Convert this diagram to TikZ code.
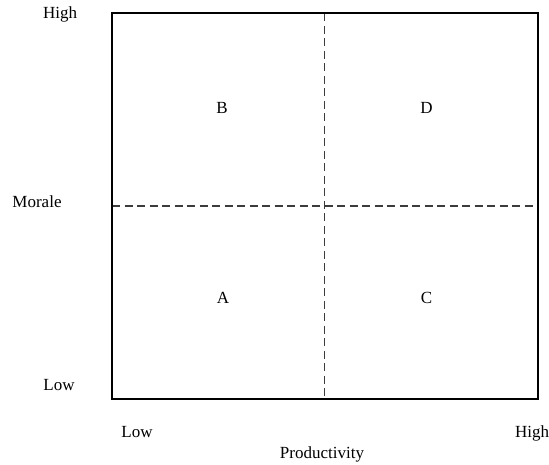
\documentclass[tikz,border=0pt]{standalone}
\usepackage{fontspec}
\setmainfont{Liberation Serif}
\begin{document}
\begin{tikzpicture}[x=1pt,y=-1pt,
  lbl/.style={anchor=base,inner sep=0pt,font=\fontsize{17}{20}\selectfont},
  frame/.style={line width=2pt,line join=miter},
  divider/.style={line width=1.2pt,draw={rgb,255:red,60;green,60;blue,60},dash pattern=on 8pt off 4.5pt}]
\useasboundingbox (0,0) rectangle (549,465);
\coordinate (tl) at (112,13.4);
\coordinate (br) at (537.5,398.5);
\coordinate (vt) at (324.75,13.4);
\coordinate (vb) at (324.75,398.5);
\coordinate (hl) at (112,205.95);
\coordinate (hr) at (537.5,205.95);
\draw[divider] (vt) -- (vb);
\draw[divider] (hl) -- (hr);
\draw[frame] (tl) rectangle (br);
\node[lbl] (yhigh) at (60,19) {High};
\node[lbl] (ylabel) at (37,208) {Morale};
\node[lbl] (ylow) at (59,390) {Low};
\node[lbl] (xlow) at (137,437) {Low};
\node[lbl] (xhigh) at (532,437) {High};
\node[lbl] (xlabel) at (322,458) {Productivity};
\node[lbl] (qb) at (222,113.5) {B};
\node[lbl] (qd) at (426.5,113.5) {D};
\node[lbl] (qa) at (223,303) {A};
\node[lbl] (qc) at (426.5,303) {C};
\end{tikzpicture}
\end{document}
